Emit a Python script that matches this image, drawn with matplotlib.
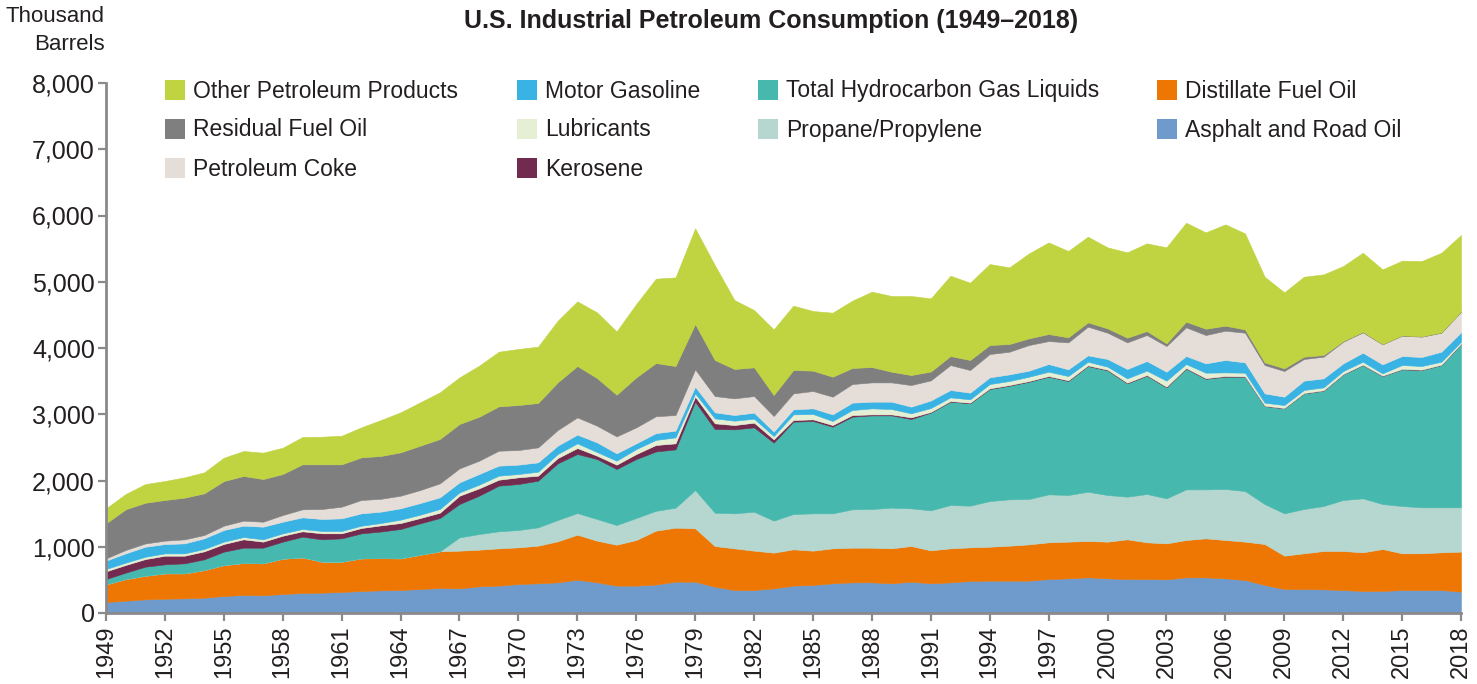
import matplotlib
matplotlib.use("Agg")
import matplotlib.pyplot as plt
from matplotlib.patches import Rectangle
from matplotlib.ticker import FuncFormatter
import numpy as np

years = list(range(1949, 2019))

asphalt = [166, 186, 206, 216, 221, 231, 257, 272, 267, 287, 302, 307, 317, 332, 342, 347, 362, 377, 372, 402,
           413, 438, 448, 463, 503, 463, 413, 413, 430, 473, 473, 397, 347, 347, 372, 413, 423, 448, 463, 463,
           448, 473, 448, 463, 483, 488, 488, 488, 513, 523, 538, 523, 513, 513, 508, 538, 538, 523, 498, 423,
           362, 362, 357, 347, 332, 332, 347, 347, 347, 322]
distillate = [267, 327, 357, 383, 378, 418, 467, 483, 483, 533, 538, 468, 458, 493, 486, 478, 518, 554, 569, 554,
              563, 553, 568, 619, 679, 629, 618, 689, 813, 815, 805, 614, 629, 594, 539, 548, 518, 528, 523, 523,
              528, 538, 498, 513, 508, 513, 528, 548, 554, 554, 549, 554, 599, 554, 543, 564, 589, 579, 579, 618,
              503, 539, 579, 589, 584, 634, 554, 554, 569, 604]
propane = [0] * 18 + [201, 236, 257, 262, 277, 322, 327, 327, 297, 332, 299, 302, 578, 503, 528, 588, 483, 533,
                      563, 528, 579, 584, 614, 569, 604, 654, 629, 689, 700, 685, 724, 704, 744, 704, 644, 729,
                      680, 764, 739, 770, 764, 604, 639, 669, 679, 770, 815, 679, 714, 694, 679, 669]
hgl = [80, 96, 136, 136, 151, 161, 202, 231, 236, 257, 312, 337, 352, 377, 402, 443, 473, 503, 503, 579,
       689, 694, 704, 855, 891, 905, 845, 890, 896, 880, 1334, 1263, 1268, 1273, 1177, 1394, 1394, 1308, 1398, 1413,
       1393, 1348, 1475, 1560, 1545, 1691, 1715, 1770, 1776, 1721, 1897, 1882, 1710, 1786, 1675, 1822, 1669, 1695,
       1726, 1479, 1585, 1745, 1741, 1896, 2012, 1932, 2063, 2073, 2148, 2465]
kerosene = [116, 116, 115, 130, 115, 121, 116, 126, 91, 90, 81, 91, 76, 81, 93, 90, 81, 80, 126, 111,
            90, 101, 76, 80, 90, 51, 66, 76, 98, 91, 75, 86, 65, 71, 50, 25, 25, 25, 25, 15,
            15, 25, 10] + [10] * 15 + [5] * 12
lubricants = [35] * 15 + [51, 50, 56, 50, 55, 61, 50, 60, 61, 71, 55, 60, 75, 77, 90, 50, 75, 66, 60, 50, 85,
                          81, 61, 76, 91, 81, 61, 59, 55, 50, 65, 61, 66, 65, 65, 55, 45, 66, 66, 91, 60, 82,
                          55, 55, 46, 45, 46, 45, 45, 45, 35, 60, 55, 45, 30]
motor_gasoline = [126, 140, 151, 141, 151, 161, 176, 171, 191, 176, 176, 181, 191, 186, 172, 171, 176, 176, 151, 161,
                  151, 141, 141, 126, 131, 146, 111, 86, 102, 101, 101, 91, 85, 91, 66, 76, 85, 100, 111, 101,
                  111, 100, 114, 111, 101, 101, 100, 91, 116, 101, 96, 116, 141, 145, 135, 121, 141, 187, 156, 140,
                  126, 141, 136, 116, 136, 136, 136, 136, 151, 141]
petroleum_coke = [35, 51, 50, 51, 61, 50, 65, 76, 75, 101, 121, 151, 176, 202, 194, 191, 196, 211, 211, 201,
                  226, 221, 226, 236, 261, 251, 256, 241, 255, 236, 262, 246, 252, 251, 236, 241, 262, 267, 281, 291,
                  291, 327, 304, 377, 342, 352, 342, 387, 347, 407, 433, 397, 402, 393, 388, 433, 428, 442, 448, 428,
                  388, 327, 327, 327, 307, 302, 307, 307, 287, 312]
residual = [528, 614, 614, 614, 629, 629, 674, 674, 644, 619, 679, 674, 639, 643, 646, 654, 670, 669, 670, 664,
            669, 679, 670, 719, 775, 720, 629, 755, 803, 740, 684, 544, 443, 433, 317, 353, 307, 302, 242, 232,
            161, 151, 133, 136, 151, 136, 116, 101, 106, 76, 65, 65, 71, 60, 40, 85, 95, 76, 50, 40,
            40, 35, 25, 10, 10, 5, 5, 5, 5, 5]
other = [227, 231, 282, 286, 307, 317, 352, 377, 398, 397, 412, 417, 432, 453, 543, 604, 654, 705, 704, 770,
         825, 846, 850, 931, 976, 991, 956, 1107, 1273, 1338, 1444, 1433, 1041, 865, 991, 971, 900, 966, 1016, 1137,
         1143, 1193, 1104, 1212, 1167, 1222, 1157, 1282, 1383, 1303, 1293, 1223, 1288, 1323, 1450, 1494, 1454, 1529,
         1449, 1293, 1147, 1207, 1217, 1132, 1192, 1127, 1127, 1137, 1202, 1152]

# stacking order bottom -> top
series = [
    ("Asphalt and Road Oil", asphalt, "#6f9bcc"),
    ("Distillate Fuel Oil", distillate, "#ee7703"),
    ("Propane/Propylene", propane, "#b5d7d0"),
    ("Total Hydrocarbon Gas Liquids", hgl, "#46b8ad"),
    ("Kerosene", kerosene, "#722a4e"),
    ("Lubricants", lubricants, "#e5efd3"),
    ("Motor Gasoline", motor_gasoline, "#39b2e4"),
    ("Petroleum Coke", petroleum_coke, "#e4ddd8"),
    ("Residual Fuel Oil", residual, "#807f80"),
    ("Other Petroleum Products", other, "#c0d341"),
]

legend_order = [
    ["Other Petroleum Products", "Residual Fuel Oil", "Petroleum Coke"],
    ["Motor Gasoline", "Lubricants", "Kerosene"],
    ["Total Hydrocarbon Gas Liquids", "Propane/Propylene"],
    ["Distillate Fuel Oil", "Asphalt and Road Oil"],
]

W, H = 1477, 684
fig = plt.figure(figsize=(W / 100, H / 100), dpi=100)
fam = ["Liberation Sans", "DejaVu Sans"]
txtcol = "#231f20"

def fx(x):
    return x / W

def fy(y):
    return 1 - y / H

x0, x1, y0, y1 = 106, 1461, 613, 83
ax = fig.add_axes([fx(x0), fy(y0), fx(x1) - fx(x0), fy(y1) - fy(y0)])

ax.stackplot(years, *[s[1] for s in series], colors=[s[2] for s in series],
             linewidth=0.4, edgecolor="face")

ax.set_xlim(1949, 2018)
ax.set_ylim(0, 8000)
ax.set_xticks(list(range(1949, 2019, 3)))
ax.set_yticks(list(range(0, 8001, 1000)))
ax.yaxis.set_major_formatter(FuncFormatter(lambda v, p: f"{int(v):,}"))
for lab in ax.get_xticklabels():
    lab.set_rotation(90)
ax.tick_params(axis="both", colors="#8a8a8a", width=1.6, length=6, labelcolor=txtcol)
ax.tick_params(axis="x", labelsize=17, pad=3)
ax.tick_params(axis="y", labelsize=18, pad=2)
for lab in ax.get_xticklabels() + ax.get_yticklabels():
    lab.set_family(fam)
for side in ("top", "right"):
    ax.spines[side].set_visible(False)
for side in ("left", "bottom"):
    ax.spines[side].set_color("#8a8a8a")
    ax.spines[side].set_linewidth(2)

# title and axis label
fig.text(fx(771), fy(21), "U.S. Industrial Petroleum Consumption (1949\u20132018)", ha="center", va="center",
         fontsize=18, fontweight="bold", family=fam, color=txtcol)
fig.text(fx(105), fy(17), "Thousand", ha="right", va="center", fontsize=16, family=fam, color=txtcol)
fig.text(fx(105), fy(45), "Barrels", ha="right", va="center", fontsize=16, family=fam, color=txtcol)

# legend
colors = {s[0]: s[2] for s in series}
col_x = [165, 517, 758, 1157]
row_y = [90, 129, 168]
for cx, names in zip(col_x, legend_order):
    for ry, name in zip(row_y, names):
        fig.patches.append(Rectangle((fx(cx), fy(ry + 10)), 20 / W, 20 / H, transform=fig.transFigure,
                                     facecolor=colors[name], edgecolor="none"))
        fig.text(fx(cx + 28), fy(ry + 1), name, ha="left", va="center", fontsize=16.5, family=fam, color=txtcol)

fig.savefig("out.png", dpi=100)
